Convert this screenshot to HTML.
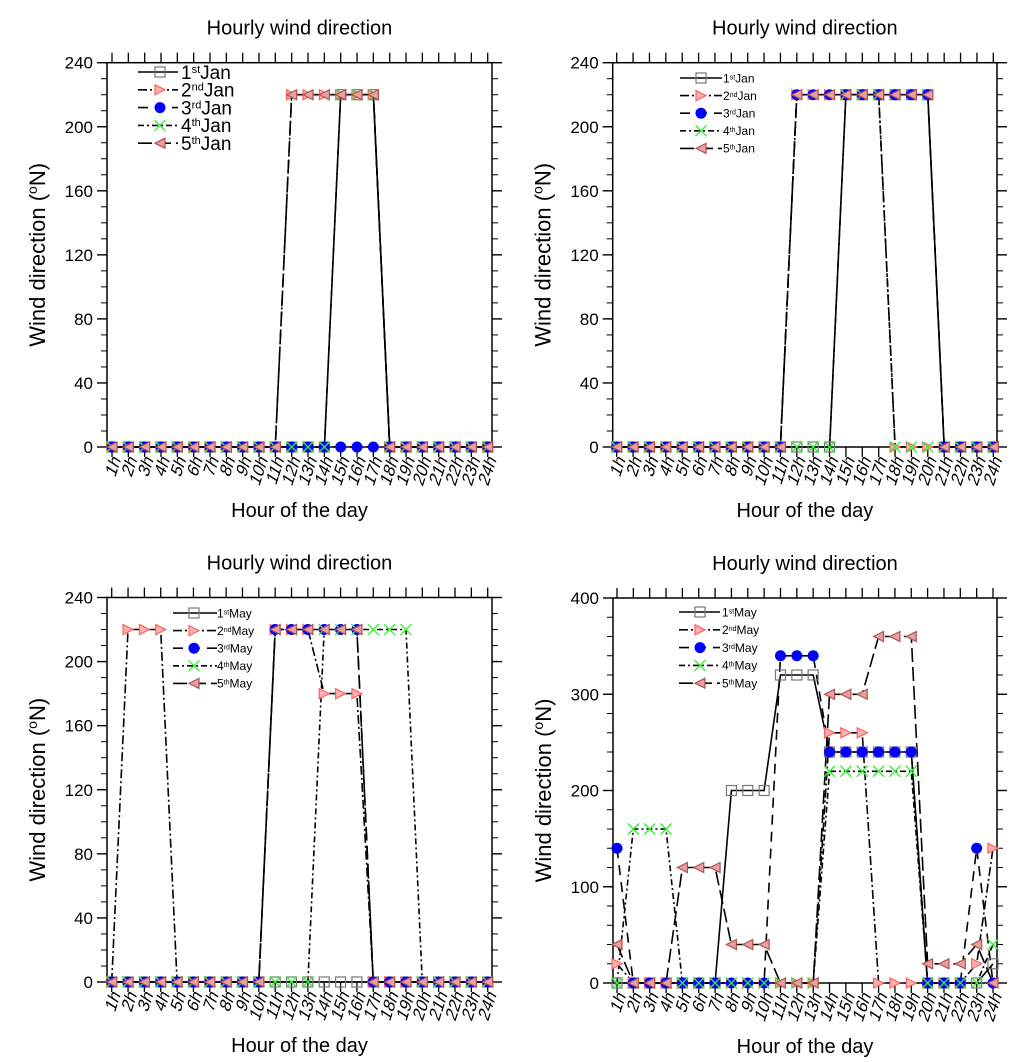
<!DOCTYPE html>
<html><head><meta charset="utf-8"><style>
body{margin:0;background:#fff}
svg{display:block;font-family:"Liberation Sans",Arial,sans-serif}
</style></head><body>
<svg id="c" width="1024" height="1062" viewBox="0 0 1024 1062"></svg>
<script>
const hours=["1h","2h","3h","4h","5h","6h","7h","8h","9h","10h","11h","12h","13h","14h","15h","16h","17h","18h","19h","20h","21h","22h","23h","24h"];
const seriesNames=["1st","2nd","3rd","4th","5th"];
// Panel A: January (top-left)
const janA1=[0,0,0,0,0,0,0,0,0,0,0,0,0,0,220,220,220,0,0,0,0,0,0,0];
const janA2=[0,0,0,0,0,0,0,0,0,0,0,220,220,220,220,220,220,0,0,0,0,0,0,0];
const janA3=[0,0,0,0,0,0,0,0,0,0,0,0,0,0,0,0,0,0,0,0,0,0,0,0];
const janA4=[0,0,0,0,0,0,0,0,0,0,0,0,0,0,220,220,220,0,0,0,0,0,0,0];
const janA5=[0,0,0,0,0,0,0,0,0,0,0,220,220,220,220,220,220,0,0,0,0,0,0,0];
// Panel B: January (top-right)
const janB1=[0,0,0,0,0,0,0,0,0,0,0,0,0,0,220,220,220,220,220,220,0,0,0,0];
const janB2=[0,0,0,0,0,0,0,0,0,0,0,220,220,220,220,220,220,0,0,0,0,0,0,0];
const janB3=[0,0,0,0,0,0,0,0,0,0,0,220,220,220,220,220,220,220,220,220,0,0,0,0];
const janB4=[0,0,0,0,0,0,0,0,0,0,0,0,0,0,220,220,220,0,0,0,0,0,0,0];
const janB5=[0,0,0,0,0,0,0,0,0,0,0,220,220,220,220,220,220,220,220,220,0,0,0,0];
// Panel C: May (bottom-left)
const mayC1=[0,0,0,0,0,0,0,0,0,0,0,0,0,0,0,0,0,0,0,0,0,0,0,0];
const mayC2=[0,220,220,220,0,0,0,0,0,0,220,220,220,180,180,180,0,0,0,0,0,0,0,0];
const mayC3=[0,0,0,0,0,0,0,0,0,0,220,220,220,220,220,220,0,0,0,0,0,0,0,0];
const mayC4=[0,0,0,0,0,0,0,0,0,0,0,0,0,220,220,220,220,220,220,0,0,0,0,0];
const mayC5=[0,0,0,0,0,0,0,0,0,0,220,220,220,220,220,220,0,0,0,0,0,0,0,0];
// Panel D: May (bottom-right)
const mayD1=[0,0,0,0,0,0,0,200,200,200,320,320,320,240,240,240,240,240,240,0,0,0,0,20];
const mayD2=[20,0,0,0,0,0,0,0,0,0,0,0,0,260,260,260,0,0,0,0,0,0,20,140];
const mayD3=[140,0,0,0,0,0,0,0,0,0,340,340,340,240,240,240,240,240,240,0,0,0,140,0];
const mayD4=[0,160,160,160,0,0,0,0,0,0,0,0,0,220,220,220,220,220,220,0,0,0,0,40];
const mayD5=[40,0,0,0,120,120,120,40,40,40,0,0,0,300,300,300,360,360,360,20,20,20,40,0];
const yTicksA=[0,40,80,120,160,200,240];
const yTicksD=[0,100,200,300,400];

const NS="http://www.w3.org/2000/svg";
const svg=document.getElementById('c');
function mk(tag,attrs,parent){const e=document.createElementNS(NS,tag);for(const k in attrs)e.setAttribute(k,attrs[k]);(parent||svg).appendChild(e);return e;}
const dashes=["none","9,3,2,3","10,7","6,3,2,3","14,5"];
const panels=[
 {name:"jan-a",month:"Jan",fx0:107,fx1:492,fy0:62.7,fy1:447,px0:112,px1:487.7,ymax:240,ticks:yTicksA,minor:10,data:[janA1,janA2,janA3,janA4,janA5],big:true,leg:{x0:138,x1:178,mx:160,tx:181,y0:72,dy:17.8}},
 {name:"jan-b",month:"Jan",fx0:612.7,fx1:997,fy0:62.7,fy1:447,px0:616.7,px1:993.3,ymax:240,ticks:yTicksA,minor:10,data:[janB1,janB2,janB3,janB4,janB5],big:false,leg:{x0:680,x1:722,mx:701,tx:723,y0:78,dy:17.6}},
 {name:"may-c",month:"May",fx0:107,fx1:492,fy0:597.5,fy1:982,px0:111.7,px1:487.7,ymax:240,ticks:yTicksA,minor:10,data:[mayC1,mayC2,mayC3,mayC4,mayC5],big:false,leg:{x0:173,x1:217,mx:194,tx:217,y0:613,dy:17.6}},
 {name:"may-d",month:"May",fx0:613,fx1:997,fy0:598,fy1:983,px0:617,px1:993,ymax:400,ticks:yTicksD,minor:20,data:[mayD1,mayD2,mayD3,mayD4,mayD5],big:false,leg:{x0:679,x1:720,mx:700,tx:722,y0:612,dy:17.8}}
];
function marker(g,k,x,y){
 if(k===0)mk('rect',{x:x-5,y:y-5,width:10,height:10,fill:'none',stroke:'#777','stroke-width':1.2},g);
 else if(k===1)mk('polygon',{points:`${x-5},${y-5} ${x+5},${y} ${x-5},${y+5}`,fill:'#ffb0b0',stroke:'#ff6060','stroke-width':1.2},g);
 else if(k===2)mk('circle',{cx:x,cy:y,r:5.5,fill:'#0000ff'},g);
 else if(k===3){mk('path',{d:`M${x-5.5},${y-5.5}L${x+5.5},${y+5.5}M${x+5.5},${y-5.5}L${x-5.5},${y+5.5}`,stroke:'#33ee33','stroke-width':1.3,fill:'none'},g);}
 else mk('polygon',{points:`${x+5},${y-5} ${x-5},${y} ${x+5},${y+5}`,fill:'#e8a0a0',stroke:'#b05050','stroke-width':1.2},g);
}
panels.forEach(p=>{
 const g=mk('g',{});
 
 
 const X=i=>p.px0+(p.px1-p.px0)*i/(hours.length-1);
 const Y=v=>p.fy1-(p.fy1-p.fy0)*v/p.ymax;
 const cx=(p.fx0+p.fx1)/2;
 const t=mk('text',{x:cx,y:p.fy0-28,'text-anchor':'middle','font-size':20},g);t.textContent="Hourly wind direction";
 
 const xt=mk('text',{x:cx,y:p.fy1+70,'text-anchor':'middle','font-size':20},g);xt.textContent="Hour of the day";
 
 const yt=mk('text',{transform:`translate(${p.fx0-62},${(p.fy0+p.fy1)/2}) rotate(-90)`,'text-anchor':'middle','font-size':22},g);
 yt.innerHTML='Wind direction (<tspan baseline-shift="super" font-size="14">o</tspan>N)';
 
 mk('rect',{x:p.fx0,y:p.fy0,width:p.fx1-p.fx0,height:p.fy1-p.fy0,fill:'none',stroke:'#000','stroke-width':1.5},g);
 for(let v=0;v<=p.ymax;v+=p.minor){const maj=p.ticks.includes(v);const L=maj?10:6;
  mk('line',{x1:p.fx0-L,x2:p.fx0,y1:Y(v),y2:Y(v),stroke:'#000','stroke-width':maj?1.4:1},g);
  mk('line',{x1:p.fx1,x2:p.fx1+L,y1:Y(v),y2:Y(v),stroke:'#000','stroke-width':maj?1.4:1},g);}
 p.ticks.forEach(v=>{const l=mk('text',{x:p.fx0-14,y:Y(v)+6,'text-anchor':'end','font-size':17},g);l.textContent=v;
  });
 hours.forEach((h,i)=>{const x=X(i);
  mk('line',{x1:x,x2:x,y1:p.fy0-10,y2:p.fy0,stroke:'#000','stroke-width':1.3},g);
  mk('line',{x1:x,x2:x,y1:p.fy1,y2:p.fy1+10,stroke:'#000','stroke-width':1.3},g);
  const l=mk('text',{transform:`translate(${x+9},${p.fy1+13}) rotate(-72) skewX(-15)`,'text-anchor':'end','font-size':17},g);l.textContent=h;
  });
 p.data.forEach((arr,k)=>{
  const d=arr.map((v,i)=>(i?'L':'M')+X(i).toFixed(1)+','+Y(v).toFixed(1)).join('');
  const ln=mk('path',{d:d,fill:'none',stroke:'#000','stroke-width':1.6,'stroke-dasharray':dashes[k]},g);
  
  
 });
 p.data.forEach((arr,k)=>{arr.forEach((v,i)=>{const mg=mk('g',{},g);
  
  
  marker(mg,k,X(i),Y(v));});});
 const L=p.leg;
 seriesNames.forEach((s,k)=>{const y=L.y0+k*L.dy;const lg=mk('g',{},g);
  
  
  mk('line',{x1:L.x0,x2:L.x1,y1:y,y2:y,stroke:'#000','stroke-width':1.6,'stroke-dasharray':dashes[k]},lg);
  marker(lg,k,L.mx,y);
  const fs=p.big?19:12,ss=p.big?11:7;
  const tx=mk('text',{x:L.tx,y:y+fs*0.36,'font-size':fs},lg);
  tx.innerHTML=s[0]+'<tspan baseline-shift="super" font-size="'+ss+'">'+s.slice(1)+'</tspan>'+p.month;
 });
});
</script>
</body></html>
